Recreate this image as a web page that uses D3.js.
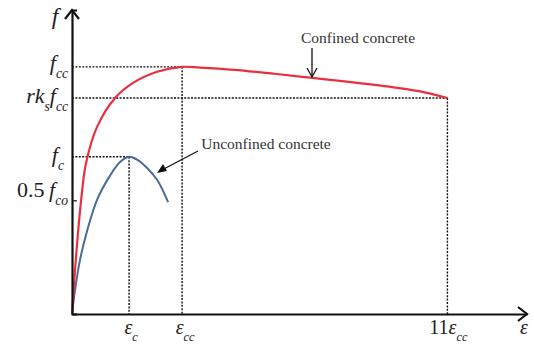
<!DOCTYPE html>
<html>
<head>
<meta charset="utf-8">
<script src="https://cdn.jsdelivr.net/npm/d3@7"></script>
<style>
  html, body { margin: 0; padding: 0; background: #fff; }
  svg { display: block; }
</style>
</head>
<body>
<svg id="chart" width="534" height="346"></svg>
<script>
// Stress–strain curves (normalised: stress / f_cc, strain in schematic units)
const confinedStrain = [0, 0.06, 0.133, 0.22, 0.311, 0.556, 0.956, 1.356, 1.889, 2.444, 2.844, 3.6, 4.5, 5.333, 6.2, 7.22, 7.8, 8.333];
const confinedStress = [0, 0.16, 0.328, 0.49, 0.61, 0.757, 0.874, 0.935, 0.980, 1.0, 0.997, 0.988, 0.972, 0.955, 0.938, 0.915, 0.898, 0.874];

const unconfinedStrain = [0, 0.067, 0.178, 0.333, 0.556, 0.844, 1.067, 1.267, 1.444, 1.667, 1.889, 2.133];
const unconfinedStress = [0, 0.097, 0.219, 0.335, 0.462, 0.560, 0.615, 0.636, 0.625, 0.591, 0.543, 0.453];

// Reference strains: ε_c, ε_cc, 11ε_cc
const strainMarks = [1.267, 2.444, 8.333];
// Reference stresses: f_cc, rk_s f_cc, f_c, 0.5 f_co
const stressMarks = [1.0, 0.874, 0.636, 0.46];

const FONT = "'Liberation Serif', 'Times New Roman', 'DejaVu Serif', serif";
const svg = d3.select("#chart");
const x = d3.scaleLinear().domain([0, 10.1]).range([72, 527]);
const y = d3.scaleLinear().domain([0, 1.23]).range([314, 10]);

const dotted = g => g.attr("stroke", "#111").attr("stroke-width", 1.4)
  .attr("stroke-dasharray", "2,1.4").attr("fill", "none");

// Guide lines: horizontal from the stress axis, vertical down to the strain axis
const guides = [
  { s: strainMarks[0], f: stressMarks[2] },
  { s: strainMarks[1], f: stressMarks[0] },
  { s: strainMarks[2], f: stressMarks[1] }
];
guides.forEach(d => {
  svg.append("line").call(dotted)
    .attr("x1", x(0)).attr("x2", x(d.s)).attr("y1", y(d.f)).attr("y2", y(d.f));
  svg.append("line").call(dotted)
    .attr("x1", x(d.s)).attr("x2", x(d.s)).attr("y1", y(d.f)).attr("y2", y(0));
});

// Curves
const line = d3.line().x(d => x(d[0])).y(d => y(d[1])).curve(d3.curveCatmullRom.alpha(0.5));
svg.append("path")
  .datum(d3.zip(unconfinedStrain, unconfinedStress))
  .attr("d", line).attr("fill", "none").attr("stroke", "#4a6a98").attr("stroke-width", 2);
svg.append("path")
  .datum(d3.zip(confinedStrain, confinedStress))
  .attr("d", line).attr("fill", "none").attr("stroke", "#e8303e").attr("stroke-width", 2.2);

// Axes
svg.append("g").attr("transform", `translate(0,${y(0)})`)
  .call(d3.axisBottom(x).tickValues([]).tickSizeOuter(0))
  .call(g => g.select(".domain").attr("stroke", "#111").attr("stroke-width", 2.2));
svg.append("g").attr("transform", `translate(${x(0)},0)`)
  .call(d3.axisLeft(y).tickValues([stressMarks[3]]).tickSize(-5).tickFormat(""))
  .call(g => g.select(".domain").attr("stroke", "#111").attr("stroke-width", 2.2))
  .call(g => g.selectAll(".tick line").attr("stroke", "#111").attr("stroke-width", 1.2));

// Open arrowheads on the axes
const xEnd = x.range()[1], yEnd = y.range()[1];
svg.append("path").attr("fill", "none").attr("stroke", "#111").attr("stroke-width", 2.2)
  .attr("d", `M${xEnd - 9},${y(0) - 7} L${xEnd},${y(0)} L${xEnd - 9},${y(0) + 7}`);
svg.append("path").attr("fill", "none").attr("stroke", "#111").attr("stroke-width", 2.2)
  .attr("d", `M${x(0) - 7},${yEnd + 9} L${x(0)},${yEnd} L${x(0) + 7},${yEnd + 9}`);

function txt(px, py, size, anchor) {
  return svg.append("text").attr("x", px).attr("y", py)
    .attr("font-family", FONT).attr("fill", "#222")
    .attr("font-size", size).attr("text-anchor", anchor || "end");
}
// Symbol with subscript, optionally preceded by other pieces [text, italic, subscript]
function labelSub(main, sub, px, py, size, anchor, prefix) {
  const t = txt(px, py, size, anchor);
  if (prefix) prefix.forEach(p => {
    const ts = t.append("tspan").text(p[0]);
    if (p[1]) ts.attr("font-style", "italic");
    if (p[2]) ts.attr("font-size", size * 0.62).attr("baseline-shift", "sub");
  });
  t.append("tspan").text(main).attr("font-style", "italic");
  t.append("tspan").text(sub).attr("font-style", "italic")
    .attr("font-size", size * 0.62).attr("baseline-shift", "sub");
  return t;
}

// Stress axis labels
txt(55, 24, 24, "middle").attr("font-style", "italic").text("f");
labelSub("f", "cc", 68, y(stressMarks[0]) + 3, 22, "end");
labelSub("f", "cc", 68, y(stressMarks[1]) + 5, 22, "end", [["rk", true], ["s", true, true]]);
labelSub("f", "c", 64, y(stressMarks[2]) + 5, 22, "end");
labelSub("f", "co", 68, y(stressMarks[3]) - 3, 22, "end", [["0.5", false], ["\u2009", false]]);

// Strain axis labels
labelSub("ε", "c", x(strainMarks[0]) + 2, 334, 20, "middle");
labelSub("ε", "cc", x(strainMarks[1]) + 3, 334, 20, "middle");
labelSub("ε", "cc", x(strainMarks[2]) + 1, 334, 20, "middle", [["11", false]]);
txt(524, 334, 20, "middle").attr("font-style", "italic").text("ε");

// Annotations
txt(358, 43, 15.5, "middle").attr("fill", "#333").text("Confined concrete");
svg.append("line").attr("x1", 312).attr("x2", 312).attr("y1", 48).attr("y2", 77)
  .attr("stroke", "#111").attr("stroke-width", 1.3);
svg.append("path").attr("fill", "none").attr("stroke", "#111").attr("stroke-width", 1.3)
  .attr("d", "M307,68 L312,77 L317,68");

txt(266, 149, 15.5, "middle").attr("fill", "#333").text("Unconfined concrete");
svg.append("line").attr("x1", 198).attr("x2", 160).attr("y1", 151).attr("y2", 171)
  .attr("stroke", "#111").attr("stroke-width", 1.3);
svg.append("path").attr("fill", "#111")
  .attr("d", "M157,173 L163,164 L167,171 Z");
</script>
</body>
</html>
